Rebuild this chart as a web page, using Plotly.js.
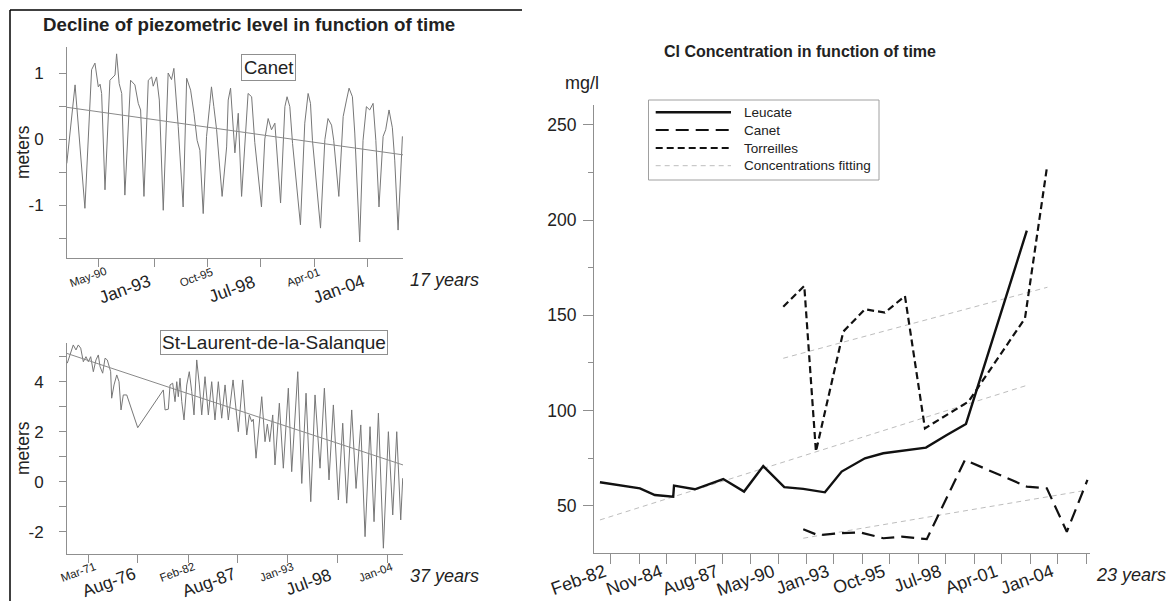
<!DOCTYPE html>
<html><head><meta charset="utf-8">
<script src="https://cdn.plot.ly/plotly-3.0.1.min.js"></script>
<style>html,body{margin:0;padding:0;background:#fff;} #chart{width:1170px;height:601px;}</style>
</head><body><div id="chart"></div>
<script>
// ---------- Canet piezometric level (m), decimal years ----------
const canetYears = [
 1988.70,1989.12,1989.62,1989.96,1990.13,1990.30,1990.39,1990.47,1990.64,1990.89,
 1991.15,1991.23,1991.36,1991.49,1991.65,1991.94,1992.16,1992.33,1992.45,1992.62,
 1992.84,1993.01,1993.09,1993.26,1993.40,1993.60,1993.85,1994.02,1994.14,1994.24,
 1994.36,1994.61,1994.79,1994.99,1995.16,1995.32,1995.46,1995.63,1995.80,1995.97,
 1996.05,1996.17,1996.31,1996.59,1996.82,1996.90,1997.02,1997.24,1997.41,1997.58,
 1997.91,1998.09,1998.25,1998.59,1998.76,1998.93,1999.10,1999.27,1999.35,1999.56,
 1999.78,1999.89,2000.03,2000.17,2000.57,2000.79,2000.96,2001.08,2001.18,2001.59,
 2001.81,2001.97,2002.15,2002.26,2002.52,2002.74,2002.91,2003.04,2003.21,2003.33,
 2003.58,2003.75,2003.92,2004.09,2004.26,2004.40,2004.56,2004.77,2004.90,2005.07,
 2005.24,2005.36,2005.53,2005.65,2005.75];
const canetLevel = [
 -0.37,0.82,-1.05,1.05,1.15,0.79,0.83,0.69,-0.77,0.89,
 0.97,1.29,0.84,0.69,-0.85,0.89,0.82,0.54,0.44,-0.87,
 0.89,0.94,0.80,0.94,0.59,-1.08,1.00,0.90,1.07,0.69,
 0.19,-1.03,0.92,0.74,0.39,-0.02,-0.17,-1.13,0.04,0.54,
 0.79,0.49,0.14,-0.87,-0.12,0.59,0.77,-0.21,0.39,-0.87,
 0.69,0.64,-0.05,-1.03,0.00,0.31,0.14,0.24,-0.12,-0.97,
 0.49,0.64,0.49,-0.07,-1.30,0.24,0.69,0.54,-0.02,-1.35,
 -0.01,0.31,0.21,-0.02,-0.87,0.34,0.59,0.77,0.64,0.09,
 -1.56,-0.02,0.49,0.44,0.54,-0.02,-1.03,0.04,0.14,0.44,
 0.17,-0.32,-1.38,-0.62,0.04];
const canetTrendYears = [1988.71, 2005.78];
const canetTrendLevel = [0.48, -0.24];

// ---------- St-Laurent-de-la-Salanque piezometric level (m) ----------
const stlYears = [
 1968.78,1969.08,1969.44,1969.74,1969.99,1970.26,1970.55,1970.84,1971.10,1971.36,
 1971.65,1971.94,1972.20,1972.39,1972.68,1972.94,1973.19,1973.56,1973.67,1973.93,
 1974.23,1974.48,1974.70,1974.95,1975.33,1976.54,1979.36,1979.55,1979.91,1980.10,
 1980.39,1980.65,1980.84,1981.01,1981.20,1981.39,1981.64,1981.94,1982.22,1982.49,
 1982.74,1983.04,1983.33,1983.59,1983.95,1984.32,1984.69,1985.05,1985.42,1985.79,
 1986.16,1986.52,1987.04,1987.62,1988.10,1988.55,1988.83,1989.10,1989.27,1989.57,
 1990.20,1990.56,1990.82,1991.08,1991.41,1991.66,1992.14,1992.58,1993.13,1993.50,
 1994.17,1994.61,1995.08,1995.60,1996.07,1996.62,1997.10,1997.61,1998.09,1998.64,
 1999.12,1999.56,2000.11,2000.59,2001.11,2001.58,2002.13,2002.57,2003.05,2003.60,
 2004.15,2004.63,2005.07,2005.51,2005.73];
const stlLevel = [
 4.74,5.07,5.47,5.27,5.47,5.34,4.80,5.00,4.80,5.00,
 4.40,4.87,5.07,4.60,4.34,4.94,4.87,4.40,3.34,3.87,
 4.27,4.00,2.87,3.47,3.47,2.16,3.67,2.87,2.90,3.87,
 3.94,3.20,4.00,3.40,4.14,3.20,2.47,3.87,4.40,3.60,
 2.67,4.87,3.87,2.67,4.20,2.67,4.00,2.47,4.00,2.54,
 3.87,2.47,4.07,2.00,4.07,1.87,2.67,2.40,2.50,0.94,
 3.40,1.60,2.30,1.60,2.67,0.67,3.14,0.54,3.74,0.40,
 4.40,-0.07,3.54,-0.80,3.47,0.54,3.74,0.07,3.07,-0.73,
 2.34,-0.86,2.87,-0.27,2.27,-2.20,2.20,-1.60,2.74,-2.66,
 2.00,-1.33,2.00,-1.53,0.14];
const stlTrendYears = [1968.75, 2005.76];
const stlTrendLevel = [5.13, 0.67];

// ---------- Cl concentration (mg/l) ----------
const leucateYears = [1981.57,1983.53,1984.26,1985.16,1985.20,1986.22,1987.61,1988.63,1989.57,1990.60,
 1991.53,1992.59,1993.41,1994.55,1995.45,1996.60,1997.54,1998.56,1999.50,2002.48];
const leucateCl = [62.3,59.1,55.6,54.7,60.5,58.6,64.0,57.4,70.8,59.7,
 58.8,57.0,67.9,74.9,77.5,79.3,80.5,87.1,92.9,194.4];
const canetClYears = [1991.53,1992.25,1993.33,1994.31,1995.45,1996.35,1997.58,1999.45,2002.48,2003.46,2004.44,2005.45];
const canetCl = [37.6,34.5,35.5,36.0,32.9,33.7,32.4,74.0,60.0,59.1,36.3,63.5];
const torreillesYears = [1990.55,1991.58,1992.15,1993.49,1994.55,1995.53,1996.51,1997.49,1999.62,2002.39,2003.46];
const torreillesCl = [154.5,165.4,78.4,141.4,153.1,151.4,160.1,90.6,104.6,148.4,227.2];
const fitLeucateYears = [1981.57, 2002.43];
const fitLeucateCl = [42.5, 113.0];
const fitTorreillesYears = [1990.55, 2003.49];
const fitTorreillesCl = [127.4, 164.7];
const fitCanetYears = [1991.53, 2005.45];
const fitCanetCl = [32.9, 58.2];

// ---------- tick labels ----------
const canetTickVals = [1990.33,1993.13,1995.87,1998.56,2001.30,2004.0];
const canetTickText = ['May-90','Jan-93','Oct-95','Jul-98','Apr-01','Jan-04'];
const stlTickVals = [1971.17,1976.57,1982.08,1987.58,1993.0,1998.5,2004.0];
const stlTickText = ['Mar-71','Aug-76','Feb-82','Aug-87','Jan-93','Jul-98','Jan-04'];
const clTickVals = [1982.08,1984.83,1987.58,1990.33,1993.0,1995.75,1998.5,2001.25,2004.0];
const clTickText = ['Feb-82','Nov-84','Aug-87','May-90','Jan-93','Oct-95','Jul-98','Apr-01','Jan-04'];
const clMinorVals = [1983.50,1986.24,1988.95,1991.69,1994.44,1997.19,1999.93,2002.67,2005.42];
const legendNames = ['Leucate','Canet','Torreilles','Concentrations fitting'];

// ---------- drawing ----------
const W = 1170, H = 601;
const PX = v => v / W, PY = v => 1 - v / H;
const FONT = 'Arial, "Liberation Sans", Helvetica, sans-serif';
const TXT = '#222';
const AXC = '#8f8f8f';
const styles = {
  leucate: {color:'#111', width:2.4, dash:'solid'},
  canet: {color:'#111', width:2.2, dash:'13px,7px'},
  torreilles: {color:'#111', width:2.2, dash:'7px,4px'},
  fit: {color:'#bdbdbd', width:1, dash:'5px,4px'}
};

const traces = [
  {x:canetYears, y:canetLevel, xaxis:'x', yaxis:'y', mode:'lines', line:{color:'#777', width:1}},
  {x:canetTrendYears, y:canetTrendLevel, xaxis:'x', yaxis:'y', mode:'lines', line:{color:'#8a8a8a', width:1}},
  {x:stlYears, y:stlLevel, xaxis:'x2', yaxis:'y2', mode:'lines', line:{color:'#777', width:1}},
  {x:stlTrendYears, y:stlTrendLevel, xaxis:'x2', yaxis:'y2', mode:'lines', line:{color:'#8a8a8a', width:1}},
  {x:fitLeucateYears, y:fitLeucateCl, xaxis:'x3', yaxis:'y3', mode:'lines', line:styles.fit},
  {x:fitTorreillesYears, y:fitTorreillesCl, xaxis:'x3', yaxis:'y3', mode:'lines', line:styles.fit},
  {x:fitCanetYears, y:fitCanetCl, xaxis:'x3', yaxis:'y3', mode:'lines', line:styles.fit},
  {x:leucateYears, y:leucateCl, xaxis:'x3', yaxis:'y3', mode:'lines', name:legendNames[0], line:styles.leucate},
  {x:canetClYears, y:canetCl, xaxis:'x3', yaxis:'y3', mode:'lines', name:legendNames[1], line:styles.canet},
  {x:torreillesYears, y:torreillesCl, xaxis:'x3', yaxis:'y3', mode:'lines', name:legendNames[2], line:styles.torreilles}
];

function baseAxis(extra) {
  return Object.assign({
    showgrid:false, zeroline:false, showline:true, linecolor:AXC, linewidth:1,
    ticks:'outside', tickcolor:AXC, tickwidth:1, fixedrange:true,
    tickfont:{family:FONT, size:17, color:TXT}
  }, extra);
}

const layout = {
  width:W, height:H, margin:{l:0,r:0,t:0,b:0},
  paper_bgcolor:'#fff', plot_bgcolor:'rgba(0,0,0,0)', showlegend:false,
  font:{family:FONT, color:TXT},
  xaxis: baseAxis({domain:[PX(67),PX(403)], range:[1988.71,2005.78], anchor:'y',
    tickmode:'array', tickvals:canetTickVals, showticklabels:false, ticklen:8}),
  yaxis: baseAxis({domain:[PY(258),PY(47)], range:[-1.803,1.394], anchor:'x',
    tickmode:'array', tickvals:[-1,0,1], ticktext:['-1','0','1'], ticklen:7, ticklabelstandoff:12,
    minor:{tickvals:[-1.5,-0.5,0.5], ticks:'outside', ticklen:7, tickcolor:AXC, tickwidth:1}}),
  xaxis2: baseAxis({domain:[PX(67),PX(403)], range:[1968.75,2005.76], anchor:'y2',
    tickmode:'array', tickvals:stlTickVals, showticklabels:false, ticklen:8}),
  yaxis2: baseAxis({domain:[PY(554),PY(343)], range:[-2.892,5.548], anchor:'x2',
    tickmode:'array', tickvals:[-2,0,2,4], ticktext:['-2','0','2','4'], ticklen:7, ticklabelstandoff:12,
    minor:{tickvals:[-1,1,3,5], ticks:'outside', ticklen:7, tickcolor:AXC, tickwidth:1}}),
  xaxis3: baseAxis({domain:[PX(594),PX(1089.7)], range:[1981.28,2005.56], anchor:'y3',
    tickmode:'array', tickvals:clTickVals, ticktext:clTickText, tickangle:-20, ticklen:10,
    ticklabelstandoff:-9, ticklabelshift:-6, tickfont:{family:FONT, size:18, color:TXT},
    minor:{tickvals:clMinorVals, ticks:'outside', ticklen:10, tickcolor:AXC, tickwidth:1}}),
  yaxis3: baseAxis({domain:[PY(552.7),PY(105)], range:[25.3,260.4], anchor:'x3',
    tickmode:'array', tickvals:[50,100,150,200,250], ticklen:10, ticklabelstandoff:3,
    tickfont:{family:FONT, size:17.5, color:TXT},
    minor:{tickvals:[75,125,175,225], ticks:'outside', ticklen:5, tickcolor:AXC, tickwidth:1}}),
  shapes:[], annotations:[]
};

const A = layout.annotations, S = layout.shapes;
function txt(text, x, y, size, opts) {
  A.push(Object.assign({text:text, x:PX(x), y:PY(y), xref:'paper', yref:'paper', showarrow:false,
    xanchor:'center', yanchor:'middle', font:{family:FONT, size:size, color:TXT}}, opts||{}));
}
// titles and labels
txt('<b>Decline of piezometric level in function of time</b>', 249, 25, 18.7);
txt('<b>Cl Concentration in function of time</b>', 800, 51, 16);
txt('mg/l', 582, 82.5, 18);
txt('meters', 23, 152, 17.5, {textangle:-90});
txt('meters', 23, 448, 17.5, {textangle:-90});
txt('Canet', 268.5, 67, 18.5, {bordercolor:'#8f8f8f', borderwidth:1, borderpad:2});
txt('St-Laurent-de-la-Salanque', 274, 342, 19, {bordercolor:'#8f8f8f', borderwidth:1, borderpad:1});
txt('<i>17 years</i>', 444, 280, 18);
txt('<i>37 years</i>', 444, 576, 18);
txt('<i>23 years</i>', 1131, 575, 18);

// rotated, alternating-size date labels of the left charts
function dateLabels(vals, texts, xref, ySmall, yBig, bigSize) {
  vals.forEach((v, i) => {
    const small = i % 2 === 0;
    A.push({text:texts[i], x:v, xref:xref, y:PY(small ? ySmall : yBig), yref:'paper',
      xshift: small ? -11 : -29, showarrow:false, textangle:-20, xanchor:'center', yanchor:'middle',
      borderpad:0, font:{family:FONT, size: small ? 11.5 : bigSize, color:TXT}});
  });
}
dateLabels(canetTickVals, canetTickText, 'x', 277, 289, 17.5);
dateLabels(stlTickVals, stlTickText, 'x2', 572, 581.5, 17.2);

// frame
S.push({type:'line', xref:'paper', yref:'paper', x0:PX(10), x1:PX(10), y0:PY(10), y1:PY(601), line:{color:'#000', width:1.5}});
S.push({type:'line', xref:'paper', yref:'paper', x0:PX(10), x1:PX(522), y0:PY(10), y1:PY(10), line:{color:'#000', width:1.5}});

// legend of the Cl chart
S.push({type:'rect', xref:'paper', yref:'paper', x0:PX(648.5), x1:PX(879), y0:PY(180), y1:PY(100), line:{color:'#a0a0a0', width:1}, fillcolor:'#fff'});
const legStyles = [styles.leucate, styles.canet, styles.torreilles, styles.fit];
const legRows = [112.3, 130, 148, 165.7];
legendNames.forEach((n, i) => {
  const st = legStyles[i];
  S.push({type:'line', xref:'paper', yref:'paper', x0:PX(655.7), x1:PX(731), y0:PY(legRows[i]), y1:PY(legRows[i]),
    line:{color:st.color, width:st.width, dash:st.dash}});
  txt(n, 742.3, legRows[i], 13.5, {xanchor:'left'});
});

Plotly.newPlot('chart', traces, layout, {staticPlot:true, displayModeBar:false});
</script>
</body></html>
